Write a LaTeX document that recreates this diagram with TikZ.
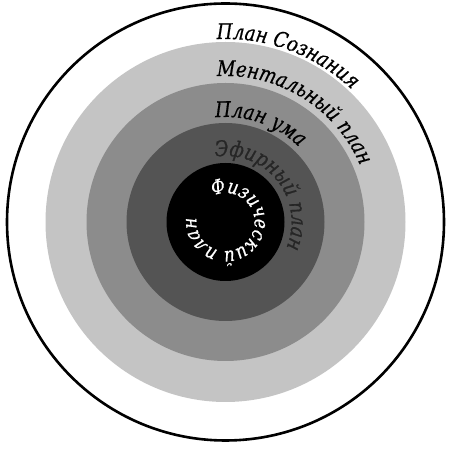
\documentclass[tikz,border=0pt]{standalone}
\usepackage{fontspec}
\newfontfamily\ringfont{DejaVu Serif}[FakeStretch=0.84, FakeBold=0.6]
\usetikzlibrary{decorations.text}
\newcommand\ringlabel{\ringfont\itshape\fontsize{21.5}{25}\selectfont}
\newcommand\corelabel{\ringfont\itshape\fontsize{20}{23}\selectfont}

\begin{document}
\begin{tikzpicture}[
  x=1pt, y=1pt,
  ring/.style={draw=none},
  arclabel/.style={decorate, decoration={text along path, text align=center, text color=#1}},
  arclabel/.default=black
]
\useasboundingbox (0,0) rectangle (451,450);
\coordinate (c) at (225.5,228);

% planes, outside in
\draw[line width=2.6pt] (c) circle[radius=218.5];
\fill[ring, fill=black!23] (c) circle[radius=180];
\fill[ring, fill=black!45] (c) circle[radius=139];
\fill[ring, fill=black!67] (c) circle[radius=99];
\fill[ring, fill=black] (c) circle[radius=59];

% names along the rings
\begin{scope}[execute at begin scope=\ringlabel]
\path[arclabel, decoration={text={План Сознания}}]
  ([shift={(150:183)}]c) arc[start angle=150, end angle=-11, radius=183];
\path[arclabel, decoration={text={Ментальный план}}]
  ([shift={(140:146)}]c) arc[start angle=140, end angle=-24, radius=146];
\path[arclabel, decoration={text={План ума}}]
  ([shift={(150:105)}]c) arc[start angle=150, end angle=-9, radius=105];
\path[arclabel=black!85, decoration={text={Эфирный план}}]
  ([shift={(168:66)}]c) arc[start angle=168, end angle=-92, radius=66];
\end{scope}
\begin{scope}[execute at begin scope=\corelabel]
\path[arclabel=white, decoration={text={Физический план}}]
  ([shift={(143.5:29)}]c) arc[start angle=143.5, end angle=-216.5, radius=29];
\end{scope}
\end{tikzpicture}
\end{document}
